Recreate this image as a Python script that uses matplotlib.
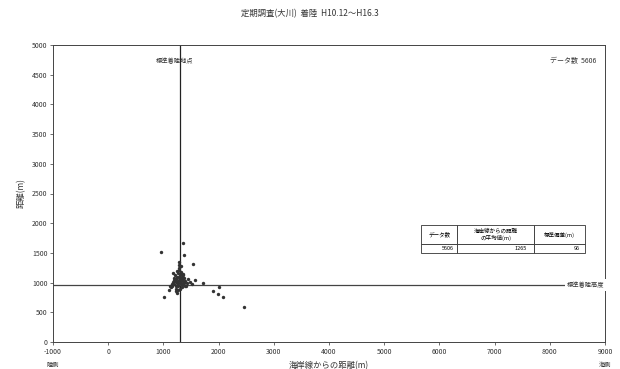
import numpy as np
import matplotlib.pyplot as plt

plt.rcParams['font.family'] = ['Noto Sans CJK JP', 'DejaVu Sans']
plt.rcParams['axes.unicode_minus'] = False

title = '定期調査(大川)  着陸  H10.12〜H16.3'
x_label = '海岸線からの距離(m)'
y_label = '距離(m)'
x_ticks = list(range(-1000, 10000, 1000))
y_ticks = list(range(0, 5500, 500))

mean_x = 1300
std_line_y = 960
n_data = 5606
mean_val = 1265
std_val = 96

# scatter points
pts_x = [951, 1361, 1379, 1531, 1723, 2013, 1904, 1995, 2085, 2466, 1017, 1240,
         1572, 1180, 1288, 1300, 1320, 1340, 1280, 1260, 1310, 1350, 1230, 1200,
         1180, 1150, 1220, 1270, 1330, 1370, 1400, 1420, 1250, 1290, 1310, 1360,
         1210, 1240, 1190, 1160, 1130, 1260, 1300, 1330, 1380, 1450, 1480, 1520,
         1100, 1120, 1280, 1320, 1350, 1270, 1240, 1300, 1410, 1190, 1260, 1330,
         1290, 1230, 1170, 1310, 1280, 1340, 1250, 1210, 1370, 1390, 1230, 1300]
pts_y = [1510, 1661, 1464, 1308, 998, 931, 859, 808, 752, 584, 763, 820,
         1044, 1156, 1296, 1000, 1050, 980, 1100, 950, 1150, 1020, 1060, 980,
         1010, 940, 900, 880, 960, 1080, 1030, 990, 1200, 1250, 1180, 1120,
         1130, 1090, 1040, 970, 920, 1030, 1070, 930, 990, 1060, 1010, 980,
         880, 950, 1220, 1000, 1140, 960, 1010, 1120, 950, 1070, 1160, 1060,
         1350, 860, 1000, 1280, 1040, 1090, 1000, 1020, 1010, 950, 940, 900]

fig = plt.figure(figsize=(6.2, 3.69), dpi=100)
ax = fig.add_axes([53 / 620, 27 / 369, 552 / 620, 297 / 369])

ax.scatter(pts_x, pts_y, s=6, c='#333333', linewidths=0, zorder=3)
ax.axvline(mean_x, color='#222222', lw=0.9, zorder=2)
ax.axhline(std_line_y, color='#444444', lw=0.9, zorder=2)

ax.set_xlim(-1000, 9000)
ax.set_ylim(0, 5000)
ax.set_xticks(x_ticks)
ax.set_yticks(y_ticks)
ax.tick_params(labelsize=5, length=2, width=0.5, colors='#333333', pad=2)
for s in ax.spines.values():
    s.set_linewidth(0.7)
    s.set_color('#444444')

ax.set_xlabel(x_label, fontsize=6, labelpad=4, color='#333333')
ax.set_ylabel(y_label, fontsize=6, labelpad=4, color='#333333')
fig.suptitle(title, fontsize=6, y=0.975, color='#333333')

for xv, side in [(-1000, '陸側'), (9000, '海側')]:
    ax.annotate(side, (xv, 0), xytext=(0, -14), textcoords='offset points',
                fontsize=4.5, ha='center', va='top', color='#333333', annotation_clip=False)

ax.text(1200, 4720, '標準着陸地点', fontsize=4.5, ha='center', va='center', color='#333333')
ax.text(0.985, 0.945, f'データ数  {n_data}', transform=ax.transAxes, fontsize=5,
        ha='right', va='center', color='#333333')
ax.text(8650, std_line_y, '標準着陸高度', fontsize=4.5, ha='center', va='center',
        color='#333333', bbox=dict(facecolor='white', edgecolor='none', pad=1.5), zorder=4)

cells = [['データ数', '海岸線からの距離\nの平均値(m)', '標準偏差(m)'],
         [str(n_data), str(mean_val), str(std_val)]]
tbl = ax.table(cellText=cells, bbox=[0.667, 0.300, 0.297, 0.094],
               colWidths=[0.22, 0.47, 0.31], cellLoc='center')
tbl.auto_set_font_size(False)
tbl.set_fontsize(4)
for (r, c), cell in tbl.get_celld().items():
    cell.set_linewidth(0.6)
    cell.set_edgecolor('#333333')
    if r == 0:
        cell.set_height(0.065)
    else:
        cell.set_height(0.029)
        cell.get_text().set_ha('right')

fig.savefig('out.png', dpi=100, facecolor='white')
